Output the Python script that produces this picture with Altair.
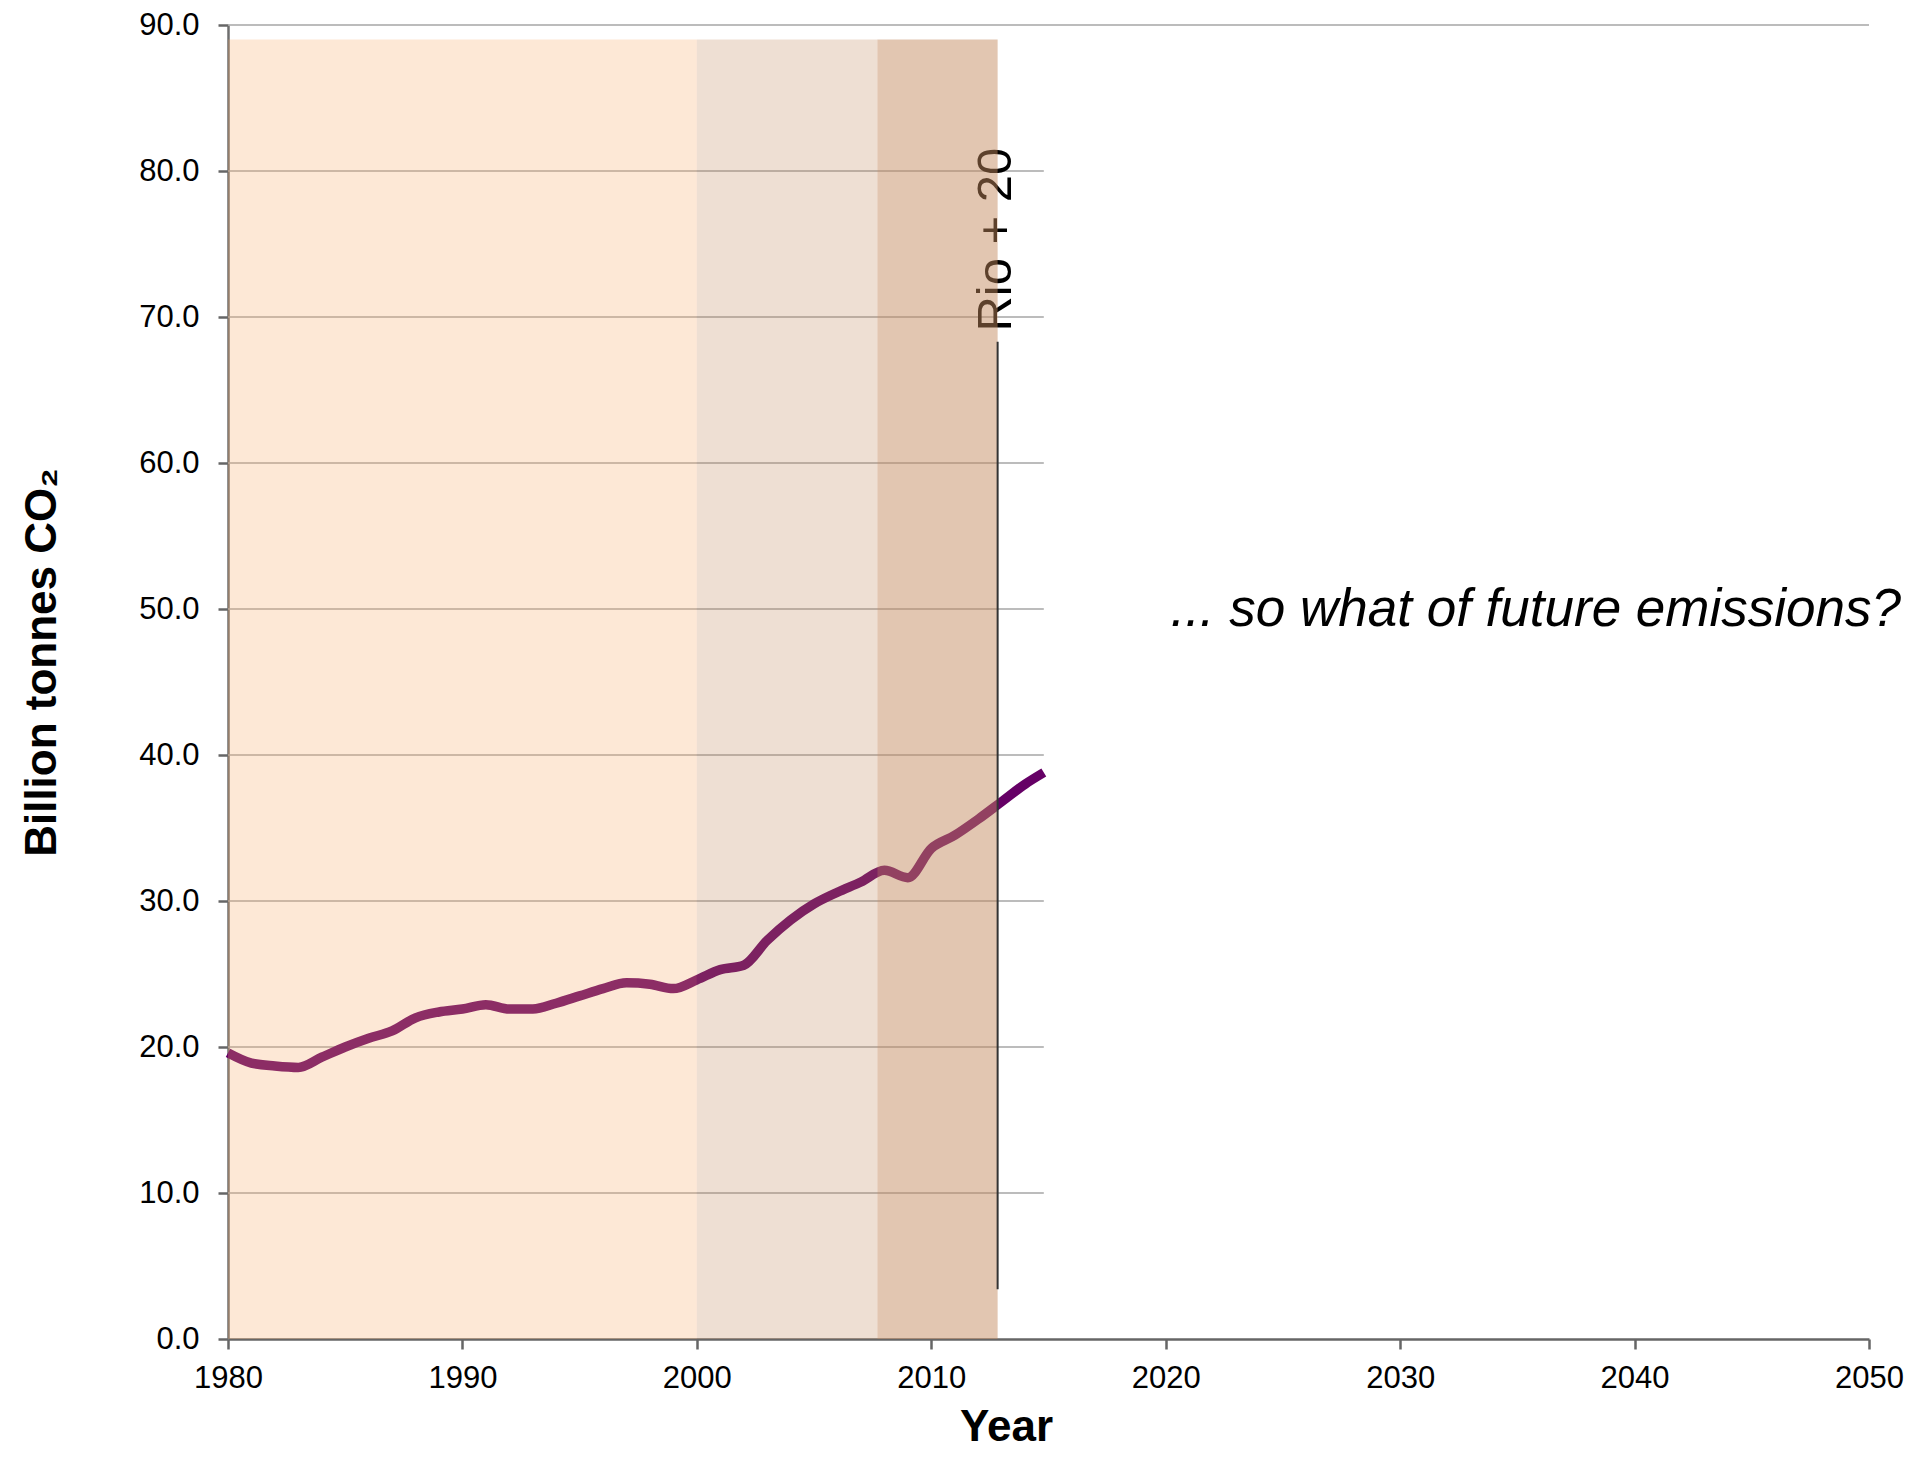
import altair as alt
import pandas as pd

# ---- data ----
years = [1980, 1981, 1982, 1983, 1984, 1985, 1986, 1987, 1988, 1989,
         1990, 1991, 1992, 1993, 1994, 1995, 1996, 1997, 1998, 1999,
         2000, 2001, 2002, 2003, 2004, 2005, 2006, 2007, 2008, 2009,
         2010, 2011, 2012, 2013, 2014, 2014.8]
emissions = [19.6, 18.9, 18.7, 18.6, 19.3, 20.0, 20.6, 21.1, 22.0, 22.4,
             22.6, 22.9, 22.6, 22.6, 23.0, 23.5, 24.0, 24.4, 24.3, 24.0,
             24.6, 25.3, 25.6, 27.3, 28.7, 29.8, 30.6, 31.3, 32.1, 31.6,
             33.6, 34.5, 35.6, 36.8, 38.0, 38.8]

x_ticks = [1980, 1990, 2000, 2010, 2020, 2030, 2040, 2050]
y_ticks = [0, 10, 20, 30, 40, 50, 60, 70, 80, 90]

band_start = [1980, 2000, 2007.7]
band_end = [2000, 2007.7, 2012.83]
band_bottom = [0, 0, 0]
band_top = [89.0, 89.0, 89.0]
band_colors = ["#F9A866", "#BC8152", "#C3885D"]
band_opacity = [0.265, 0.255, 0.48]

grid_values = [10, 20, 30, 40, 50, 60, 70, 80, 90]
grid_from = [1980] * 9
grid_to = [2014.8] * 8 + [2050]

rio_line_x = [2012.83]
rio_line_y0 = [3.4]
rio_line_y1 = [68.3]

rio_label = ["Rio + 20"]
rio_label_x = [2013.38]
rio_label_y = [75.3]

future_label = ["... so what of future emissions?"]
future_label_x = [2020.2]
future_label_y = [49.9]

FONT = "Liberation Sans"

x_scale = alt.Scale(domain=[1980, 2050], nice=False, zero=False)
y_scale = alt.Scale(domain=[0, 90], nice=False, zero=True)

line_df = pd.DataFrame({"year": years, "co2": emissions})
band_df = pd.DataFrame({"x0": band_start, "x1": band_end, "y0": band_bottom,
                        "y1": band_top, "c": band_colors, "o": band_opacity})
grid_df = pd.DataFrame({"v": grid_values, "x0": grid_from, "x1": grid_to})
rio_df = pd.DataFrame({"x": rio_line_x, "y0": rio_line_y0, "y1": rio_line_y1})
rio_text_df = pd.DataFrame({"t": rio_label, "x": rio_label_x, "y": rio_label_y})
future_df = pd.DataFrame({"t": future_label, "x": future_label_x, "y": future_label_y})

x_axis = alt.Axis(values=x_ticks, format="d", title="Year",
                  labelFont=FONT, labelFontSize=31, labelColor="#000000",
                  labelPadding=14, labelFlush=False, labelOverlap=False,
                  titleFont=FONT, titleFontSize=44, titleFontWeight="bold",
                  titleColor="#000000", titleX=778, titleY=101,
                  titleAlign="center", titleBaseline="alphabetic",
                  tickSize=10, tickWidth=2.5, tickColor="#666666",
                  domainColor="#666666", domainWidth=2.5, grid=False)
y_axis = alt.Axis(values=y_ticks, format=".1f", title="Billion tonnes CO₂",
                  labelFont=FONT, labelFontSize=31, labelColor="#000000",
                  labelPadding=19, labelFlush=False, labelOverlap=False,
                  titleFont=FONT, titleFontSize=44, titleFontWeight="bold",
                  titleColor="#000000", titleAngle=270, titleX=-173,
                  titleY=637, titleAlign="center", titleBaseline="alphabetic",
                  tickSize=10, tickWidth=2.5, tickColor="#666666",
                  domainColor="#6E6E6E", domainWidth=2.5, grid=False)

grid = alt.Chart(grid_df).mark_rule(color="#A6A6A6", strokeWidth=1.5).encode(
    x=alt.X("x0:Q", scale=x_scale, axis=x_axis),
    x2="x1:Q",
    y=alt.Y("v:Q", scale=y_scale, axis=y_axis),
)

line = alt.Chart(line_df).mark_line(
    color="#660066", strokeWidth=9.5, interpolate="monotone", strokeCap="butt"
).encode(
    x=alt.X("year:Q", scale=x_scale),
    y=alt.Y("co2:Q", scale=y_scale),
)

rio_text = alt.Chart(rio_text_df).mark_text(
    font=FONT, fontSize=49, angle=270, align="center", baseline="alphabetic",
    color="#000000"
).encode(
    x=alt.X("x:Q", scale=x_scale),
    y=alt.Y("y:Q", scale=y_scale),
    text="t:N",
)

bands = alt.Chart(band_df).mark_rect().encode(
    x=alt.X("x0:Q", scale=x_scale),
    x2="x1:Q",
    y=alt.Y("y0:Q", scale=y_scale),
    y2="y1:Q",
    color=alt.Color("c:N", scale=None, legend=None),
    opacity=alt.Opacity("o:Q", scale=None, legend=None),
)

rio_rule = alt.Chart(rio_df).mark_rule(color="#333333", strokeWidth=2).encode(
    x=alt.X("x:Q", scale=x_scale),
    y=alt.Y("y0:Q", scale=y_scale),
    y2="y1:Q",
)

future_text = alt.Chart(future_df).mark_text(
    font=FONT, fontSize=53, fontStyle="italic", align="left", baseline="middle",
    color="#000000"
).encode(
    x=alt.X("x:Q", scale=x_scale),
    y=alt.Y("y:Q", scale=y_scale),
    text="t:N",
)

chart = alt.layer(grid, line, rio_text, bands, rio_rule, future_text).properties(
    width=1641,
    height=1314,
    autosize=alt.AutoSizeParams(type="none"),
    padding={"left": 220, "top": 17, "right": 40, "bottom": 112},
).configure_view(stroke=None)

chart.save("out.html", embed_options={"renderer": "svg", "actions": False})
